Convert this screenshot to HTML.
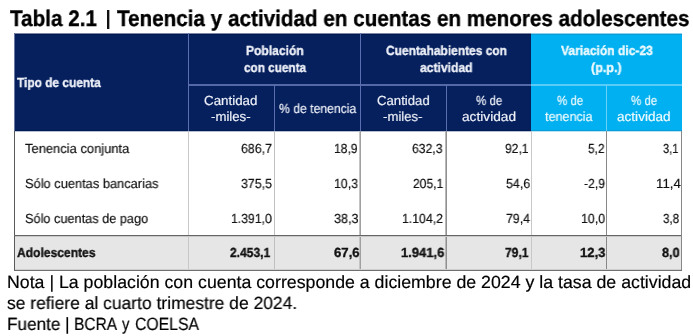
<!DOCTYPE html>
<html><head><meta charset="utf-8"><style>
html,body{margin:0;padding:0;background:#fff;}
body{width:693px;height:336px;position:relative;overflow:hidden;font-family:'Liberation Sans', sans-serif;}
</style></head><body>
<div style="position:absolute;left:107px;top:10px;width:2px;height:19px;background:#111"></div>
<div style="position:absolute;left:109px;top:10px;width:1px;height:19px;background:#aaa"></div>
<div style="position:absolute;left:14px;top:33px;width:1px;height:98px;background:#6a78a0"></div>
<div style="position:absolute;left:15px;top:33px;width:516px;height:98px;background:#06205e"></div>
<div style="position:absolute;left:531px;top:33px;width:151px;height:98px;background:#00b0f0"></div>
<div style="position:absolute;left:15px;top:33px;width:516px;height:1px;background:#7c86a8"></div>
<div style="position:absolute;left:15px;top:34px;width:516px;height:1px;background:#00174c"></div>
<div style="position:absolute;left:531px;top:33px;width:151px;height:1px;background:#8ad2ee"></div>
<div style="position:absolute;left:531px;top:34px;width:151px;height:1px;background:#0a9cd6"></div>
<div style="position:absolute;left:15px;top:130px;width:516px;height:1px;background:#001a52"></div>
<div style="position:absolute;left:15px;top:131px;width:516px;height:1px;background:#b8bed2"></div>
<div style="position:absolute;left:531px;top:130px;width:151px;height:1px;background:#0a9ed8"></div>
<div style="position:absolute;left:531px;top:131px;width:151px;height:1px;background:#b8e4f6"></div>
<div style="position:absolute;left:188px;top:84px;width:343px;height:2px;background:#5468a6"></div>
<div style="position:absolute;left:531px;top:84px;width:151px;height:2px;background:#58ccf6"></div>
<div style="position:absolute;left:188px;top:33px;width:1px;height:98px;background:#5a6eb0"></div>
<div style="position:absolute;left:360px;top:33px;width:1px;height:98px;background:#5a6eb0"></div>
<div style="position:absolute;left:274px;top:85px;width:1px;height:46px;background:#5a6eb0"></div>
<div style="position:absolute;left:446px;top:85px;width:1px;height:46px;background:#5a6eb0"></div>
<div style="position:absolute;left:606px;top:85px;width:1px;height:46px;background:#66d2f7"></div>
<div style="position:absolute;left:15px;top:235px;width:666px;height:35px;background:#e6e6e6"></div>
<div style="position:absolute;left:14px;top:131px;width:1px;height:140px;background:#5a5a5a"></div>
<div style="position:absolute;left:681px;top:131px;width:1px;height:140px;background:#888888"></div>
<div style="position:absolute;left:188px;top:131px;width:1px;height:139px;background:#c8c8c8"></div>
<div style="position:absolute;left:274px;top:131px;width:1px;height:139px;background:#c0c0c0"></div>
<div style="position:absolute;left:359px;top:131px;width:1px;height:139px;background:#c4c4c4"></div>
<div style="position:absolute;left:360px;top:131px;width:1px;height:139px;background:#a0a0a0"></div>
<div style="position:absolute;left:445px;top:131px;width:1px;height:139px;background:#b8b8b8"></div>
<div style="position:absolute;left:446px;top:131px;width:1px;height:139px;background:#909090"></div>
<div style="position:absolute;left:531px;top:131px;width:1px;height:139px;background:#c8c8c8"></div>
<div style="position:absolute;left:606px;top:131px;width:1px;height:139px;background:#888888"></div>
<div style="position:absolute;left:14px;top:235px;width:667px;height:1px;background:#656565"></div>
<div style="position:absolute;left:15px;top:236px;width:666px;height:1px;background:#c8c8c8"></div>
<div style="position:absolute;left:15px;top:269px;width:666px;height:1px;background:#cfcfcf"></div>
<div style="position:absolute;left:14px;top:270px;width:668px;height:1px;background:#707070"></div>
<div style="position:absolute;left:9.80px;top:5.00px;font-size:22.5px;line-height:27.000px;font-weight:700;color:#000;white-space:nowrap;will-change:transform;text-rendering:geometricPrecision;-webkit-text-stroke:0.35px #000;transform:scaleX(0.9202);transform-origin:0 0;">Tabla 2.1</div>
<div style="position:absolute;left:116.50px;top:5.00px;font-size:22.5px;line-height:27.000px;font-weight:700;color:#000;white-space:nowrap;will-change:transform;text-rendering:geometricPrecision;-webkit-text-stroke:0.35px #000;transform:scaleX(0.9181);transform-origin:0 0;">Tenencia y actividad en cuentas en menores adolescentes</div>
<div style="position:absolute;left:17.00px;top:75.00px;font-size:13.2px;line-height:15.840px;font-weight:700;color:#eef1f8;white-space:nowrap;will-change:transform;text-rendering:geometricPrecision;-webkit-text-stroke:0.35px #eef1f8;transform:scaleX(0.9022);transform-origin:0 0;">Tipo de cuenta</div>
<div style="position:absolute;left:245.89px;top:43.00px;font-size:13.2px;line-height:15.840px;font-weight:700;color:#eef1f8;white-space:nowrap;will-change:transform;text-rendering:geometricPrecision;-webkit-text-stroke:0.35px #eef1f8;transform:scaleX(0.9148);transform-origin:0 0;">Población</div>
<div style="position:absolute;left:243.50px;top:59.50px;font-size:13.2px;line-height:15.840px;font-weight:700;color:#eef1f8;white-space:nowrap;will-change:transform;text-rendering:geometricPrecision;-webkit-text-stroke:0.35px #eef1f8;transform:scaleX(0.8914);transform-origin:0 0;">con cuenta</div>
<div style="position:absolute;left:385.70px;top:43.00px;font-size:13.2px;line-height:15.840px;font-weight:700;color:#eef1f8;white-space:nowrap;will-change:transform;text-rendering:geometricPrecision;-webkit-text-stroke:0.35px #eef1f8;transform:scaleX(0.9068);transform-origin:0 0;">Cuentahabientes con</div>
<div style="position:absolute;left:420.40px;top:59.50px;font-size:13.2px;line-height:15.840px;font-weight:700;color:#eef1f8;white-space:nowrap;will-change:transform;text-rendering:geometricPrecision;-webkit-text-stroke:0.35px #eef1f8;transform:scaleX(0.9196);transform-origin:0 0;">actividad</div>
<div style="position:absolute;left:561.00px;top:43.00px;font-size:13.2px;line-height:15.840px;font-weight:700;color:#eefaff;white-space:nowrap;will-change:transform;text-rendering:geometricPrecision;-webkit-text-stroke:0.35px #eefaff;transform:scaleX(0.9150);transform-origin:0 0;">Variación dic-23</div>
<div style="position:absolute;left:590.85px;top:59.50px;font-size:13.2px;line-height:15.840px;font-weight:700;color:#eefaff;white-space:nowrap;will-change:transform;text-rendering:geometricPrecision;-webkit-text-stroke:0.35px #eefaff;transform:scaleX(0.9516);transform-origin:0 0;">(p.p.)</div>
<div style="position:absolute;left:204.39px;top:92.70px;font-size:13.2px;line-height:15.840px;font-weight:400;color:#eef1f8;white-space:nowrap;will-change:transform;text-rendering:geometricPrecision;-webkit-text-stroke:0.18px #eef1f8;transform:scaleX(1.0118);transform-origin:0 0;">Cantidad</div>
<div style="position:absolute;left:211.00px;top:108.50px;font-size:13.2px;line-height:15.840px;font-weight:400;color:#eef1f8;white-space:nowrap;will-change:transform;text-rendering:geometricPrecision;-webkit-text-stroke:0.18px #eef1f8;transform:scaleX(1.0000);transform-origin:0 0;">-miles-</div>
<div style="position:absolute;left:278.60px;top:101.00px;font-size:13.2px;line-height:15.840px;font-weight:400;color:#eef1f8;white-space:nowrap;will-change:transform;text-rendering:geometricPrecision;-webkit-text-stroke:0.18px #eef1f8;transform:scaleX(0.9238);transform-origin:0 0;">% de tenencia</div>
<div style="position:absolute;left:376.80px;top:92.70px;font-size:13.2px;line-height:15.840px;font-weight:400;color:#eef1f8;white-space:nowrap;will-change:transform;text-rendering:geometricPrecision;-webkit-text-stroke:0.18px #eef1f8;transform:scaleX(0.9980);transform-origin:0 0;">Cantidad</div>
<div style="position:absolute;left:383.31px;top:108.50px;font-size:13.2px;line-height:15.840px;font-weight:400;color:#eef1f8;white-space:nowrap;will-change:transform;text-rendering:geometricPrecision;-webkit-text-stroke:0.18px #eef1f8;transform:scaleX(0.9947);transform-origin:0 0;">-miles-</div>
<div style="position:absolute;left:475.90px;top:92.70px;font-size:13.2px;line-height:15.840px;font-weight:400;color:#eef1f8;white-space:nowrap;will-change:transform;text-rendering:geometricPrecision;-webkit-text-stroke:0.18px #eef1f8;transform:scaleX(0.8733);transform-origin:0 0;">% de</div>
<div style="position:absolute;left:462.26px;top:108.50px;font-size:13.2px;line-height:15.840px;font-weight:400;color:#eef1f8;white-space:nowrap;will-change:transform;text-rendering:geometricPrecision;-webkit-text-stroke:0.18px #eef1f8;transform:scaleX(1.0380);transform-origin:0 0;">actividad</div>
<div style="position:absolute;left:556.80px;top:92.70px;font-size:13.2px;line-height:15.840px;font-weight:400;color:#eefaff;white-space:nowrap;will-change:transform;text-rendering:geometricPrecision;-webkit-text-stroke:0.18px #eefaff;transform:scaleX(0.8700);transform-origin:0 0;">% de</div>
<div style="position:absolute;left:545.30px;top:108.50px;font-size:13.2px;line-height:15.840px;font-weight:400;color:#eefaff;white-space:nowrap;will-change:transform;text-rendering:geometricPrecision;-webkit-text-stroke:0.18px #eefaff;transform:scaleX(0.9540);transform-origin:0 0;">tenencia</div>
<div style="position:absolute;left:631.00px;top:92.70px;font-size:13.2px;line-height:15.840px;font-weight:400;color:#eefaff;white-space:nowrap;will-change:transform;text-rendering:geometricPrecision;-webkit-text-stroke:0.18px #eefaff;transform:scaleX(0.8700);transform-origin:0 0;">% de</div>
<div style="position:absolute;left:617.27px;top:108.50px;font-size:13.2px;line-height:15.840px;font-weight:400;color:#eefaff;white-space:nowrap;will-change:transform;text-rendering:geometricPrecision;-webkit-text-stroke:0.18px #eefaff;transform:scaleX(1.0300);transform-origin:0 0;">actividad</div>
<div style="position:absolute;left:25.40px;top:141.00px;font-size:13.2px;line-height:15.840px;font-weight:400;color:#111111;white-space:nowrap;will-change:transform;text-rendering:geometricPrecision;-webkit-text-stroke:0.18px #111111;transform:scaleX(0.9811);transform-origin:0 0;">Tenencia conjunta</div>
<div style="position:absolute;left:240.96px;top:141.00px;font-size:13.2px;line-height:15.840px;font-weight:400;color:#111111;white-space:nowrap;will-change:transform;text-rendering:geometricPrecision;-webkit-text-stroke:0.18px #111111;transform:scaleX(0.9375);transform-origin:0 0;">686,7</div>
<div style="position:absolute;left:334.48px;top:141.00px;font-size:13.2px;line-height:15.840px;font-weight:400;color:#111111;white-space:nowrap;will-change:transform;text-rendering:geometricPrecision;-webkit-text-stroke:0.18px #111111;transform:scaleX(0.9208);transform-origin:0 0;">18,9</div>
<div style="position:absolute;left:412.48px;top:141.00px;font-size:13.2px;line-height:15.840px;font-weight:400;color:#111111;white-space:nowrap;will-change:transform;text-rendering:geometricPrecision;-webkit-text-stroke:0.18px #111111;transform:scaleX(0.9219);transform-origin:0 0;">632,3</div>
<div style="position:absolute;left:505.08px;top:141.00px;font-size:13.2px;line-height:15.840px;font-weight:400;color:#111111;white-space:nowrap;will-change:transform;text-rendering:geometricPrecision;-webkit-text-stroke:0.18px #111111;transform:scaleX(0.9208);transform-origin:0 0;">92,1</div>
<div style="position:absolute;left:588.09px;top:141.00px;font-size:13.2px;line-height:15.840px;font-weight:400;color:#111111;white-space:nowrap;will-change:transform;text-rendering:geometricPrecision;-webkit-text-stroke:0.18px #111111;transform:scaleX(0.9059);transform-origin:0 0;">5,2</div>
<div style="position:absolute;left:662.56px;top:141.00px;font-size:13.2px;line-height:15.840px;font-weight:400;color:#111111;white-space:nowrap;will-change:transform;text-rendering:geometricPrecision;-webkit-text-stroke:0.18px #111111;transform:scaleX(0.8412);transform-origin:0 0;">3,1</div>
<div style="position:absolute;left:24.83px;top:176.40px;font-size:13.2px;line-height:15.840px;font-weight:400;color:#111111;white-space:nowrap;will-change:transform;text-rendering:geometricPrecision;-webkit-text-stroke:0.18px #111111;transform:scaleX(0.9735);transform-origin:0 0;">Sólo cuentas bancarias</div>
<div style="position:absolute;left:240.96px;top:176.40px;font-size:13.2px;line-height:15.840px;font-weight:400;color:#111111;white-space:nowrap;will-change:transform;text-rendering:geometricPrecision;-webkit-text-stroke:0.18px #111111;transform:scaleX(0.9375);transform-origin:0 0;">375,5</div>
<div style="position:absolute;left:334.36px;top:176.40px;font-size:13.2px;line-height:15.840px;font-weight:400;color:#111111;white-space:nowrap;will-change:transform;text-rendering:geometricPrecision;-webkit-text-stroke:0.18px #111111;transform:scaleX(0.9375);transform-origin:0 0;">10,3</div>
<div style="position:absolute;left:412.58px;top:176.40px;font-size:13.2px;line-height:15.840px;font-weight:400;color:#111111;white-space:nowrap;will-change:transform;text-rendering:geometricPrecision;-webkit-text-stroke:0.18px #111111;transform:scaleX(0.9156);transform-origin:0 0;">205,1</div>
<div style="position:absolute;left:505.65px;top:176.40px;font-size:13.2px;line-height:15.840px;font-weight:400;color:#111111;white-space:nowrap;will-change:transform;text-rendering:geometricPrecision;-webkit-text-stroke:0.18px #111111;transform:scaleX(0.9458);transform-origin:0 0;">54,6</div>
<div style="position:absolute;left:583.88px;top:176.40px;font-size:13.2px;line-height:15.840px;font-weight:400;color:#111111;white-space:nowrap;will-change:transform;text-rendering:geometricPrecision;-webkit-text-stroke:0.18px #111111;transform:scaleX(0.9190);transform-origin:0 0;">-2,9</div>
<div style="position:absolute;left:655.60px;top:176.40px;font-size:13.2px;line-height:15.840px;font-weight:400;color:#111111;white-space:nowrap;will-change:transform;text-rendering:geometricPrecision;-webkit-text-stroke:0.18px #111111;transform:scaleX(1.0043);transform-origin:0 0;">11,4</div>
<div style="position:absolute;left:24.83px;top:211.00px;font-size:13.2px;line-height:15.840px;font-weight:400;color:#111111;white-space:nowrap;will-change:transform;text-rendering:geometricPrecision;-webkit-text-stroke:0.18px #111111;transform:scaleX(0.9651);transform-origin:0 0;">Sólo cuentas de pago</div>
<div style="position:absolute;left:231.17px;top:211.00px;font-size:13.2px;line-height:15.840px;font-weight:400;color:#111111;white-space:nowrap;will-change:transform;text-rendering:geometricPrecision;-webkit-text-stroke:0.18px #111111;transform:scaleX(0.9256);transform-origin:0 0;">1.391,0</div>
<div style="position:absolute;left:333.84px;top:211.00px;font-size:13.2px;line-height:15.840px;font-weight:400;color:#111111;white-space:nowrap;will-change:transform;text-rendering:geometricPrecision;-webkit-text-stroke:0.18px #111111;transform:scaleX(0.9583);transform-origin:0 0;">38,3</div>
<div style="position:absolute;left:402.47px;top:211.00px;font-size:13.2px;line-height:15.840px;font-weight:400;color:#111111;white-space:nowrap;will-change:transform;text-rendering:geometricPrecision;-webkit-text-stroke:0.18px #111111;transform:scaleX(0.9302);transform-origin:0 0;">1.104,2</div>
<div style="position:absolute;left:506.26px;top:211.00px;font-size:13.2px;line-height:15.840px;font-weight:400;color:#111111;white-space:nowrap;will-change:transform;text-rendering:geometricPrecision;-webkit-text-stroke:0.18px #111111;transform:scaleX(0.9375);transform-origin:0 0;">79,4</div>
<div style="position:absolute;left:581.16px;top:211.00px;font-size:13.2px;line-height:15.840px;font-weight:400;color:#111111;white-space:nowrap;will-change:transform;text-rendering:geometricPrecision;-webkit-text-stroke:0.18px #111111;transform:scaleX(0.9417);transform-origin:0 0;">10,0</div>
<div style="position:absolute;left:663.22px;top:211.00px;font-size:13.2px;line-height:15.840px;font-weight:400;color:#111111;white-space:nowrap;will-change:transform;text-rendering:geometricPrecision;-webkit-text-stroke:0.18px #111111;transform:scaleX(0.8824);transform-origin:0 0;">3,8</div>
<div style="position:absolute;left:16.60px;top:245.40px;font-size:13.2px;line-height:15.840px;font-weight:700;color:#111;white-space:nowrap;will-change:transform;text-rendering:geometricPrecision;-webkit-text-stroke:0.35px #111;transform:scaleX(0.9153);transform-origin:0 0;">Adolescentes</div>
<div style="position:absolute;left:230.00px;top:245.40px;font-size:13.2px;line-height:15.840px;font-weight:700;color:#111;white-space:nowrap;will-change:transform;text-rendering:geometricPrecision;-webkit-text-stroke:0.35px #111;transform:scaleX(0.9136);transform-origin:0 0;">2.453,1</div>
<div style="position:absolute;left:333.50px;top:245.40px;font-size:13.2px;line-height:15.840px;font-weight:700;color:#111;white-space:nowrap;will-change:transform;text-rendering:geometricPrecision;-webkit-text-stroke:0.35px #111;transform:scaleX(0.9960);transform-origin:0 0;">67,6</div>
<div style="position:absolute;left:400.72px;top:245.40px;font-size:13.2px;line-height:15.840px;font-weight:700;color:#111;white-space:nowrap;will-change:transform;text-rendering:geometricPrecision;-webkit-text-stroke:0.35px #111;transform:scaleX(0.9837);transform-origin:0 0;">1.941,6</div>
<div style="position:absolute;left:504.80px;top:245.40px;font-size:13.2px;line-height:15.840px;font-weight:700;color:#111;white-space:nowrap;will-change:transform;text-rendering:geometricPrecision;-webkit-text-stroke:0.35px #111;transform:scaleX(0.9160);transform-origin:0 0;">79,1</div>
<div style="position:absolute;left:579.71px;top:245.40px;font-size:13.2px;line-height:15.840px;font-weight:700;color:#111;white-space:nowrap;will-change:transform;text-rendering:geometricPrecision;-webkit-text-stroke:0.35px #111;transform:scaleX(0.9917);transform-origin:0 0;">12,3</div>
<div style="position:absolute;left:662.00px;top:245.40px;font-size:13.2px;line-height:15.840px;font-weight:700;color:#111;white-space:nowrap;will-change:transform;text-rendering:geometricPrecision;-webkit-text-stroke:0.35px #111;transform:scaleX(0.9611);transform-origin:0 0;">8,0</div>
<div style="position:absolute;left:7.30px;top:272.00px;font-size:17.7px;line-height:21.240px;font-weight:400;color:#000;white-space:nowrap;will-change:transform;text-rendering:geometricPrecision;-webkit-text-stroke:0.18px #000;transform:scaleX(1.0031);transform-origin:0 0;">Nota | La población con cuenta corresponde a diciembre de 2024 y la tasa de actividad</div>
<div style="position:absolute;left:7.31px;top:292.70px;font-size:17.7px;line-height:21.240px;font-weight:400;color:#000;white-space:nowrap;will-change:transform;text-rendering:geometricPrecision;-webkit-text-stroke:0.18px #000;transform:scaleX(0.9873);transform-origin:0 0;">se refiere al cuarto trimestre de 2024.</div>
<div style="position:absolute;left:7.33px;top:314.00px;font-size:17.7px;line-height:21.240px;font-weight:400;color:#000;white-space:nowrap;will-change:transform;text-rendering:geometricPrecision;-webkit-text-stroke:0.18px #000;transform:scaleX(0.9698);transform-origin:0 0;">Fuente</div>
<div style="position:absolute;left:64.60px;top:314.00px;font-size:17.7px;line-height:21.240px;font-weight:400;color:#000;white-space:nowrap;will-change:transform;text-rendering:geometricPrecision;-webkit-text-stroke:0.18px #000;transform:scaleX(1.0000);transform-origin:0 0;">|</div>
<div style="position:absolute;left:73.82px;top:314.00px;font-size:17.7px;line-height:21.240px;font-weight:400;color:#000;white-space:nowrap;will-change:transform;text-rendering:geometricPrecision;-webkit-text-stroke:0.18px #000;transform:scaleX(0.8792);transform-origin:0 0;">BCRA</div>
<div style="position:absolute;left:122.00px;top:314.00px;font-size:17.7px;line-height:21.240px;font-weight:400;color:#000;white-space:nowrap;will-change:transform;text-rendering:geometricPrecision;-webkit-text-stroke:0.18px #000;transform:scaleX(0.8333);transform-origin:0 0;">y</div>
<div style="position:absolute;left:134.81px;top:314.00px;font-size:17.7px;line-height:21.240px;font-weight:400;color:#000;white-space:nowrap;will-change:transform;text-rendering:geometricPrecision;-webkit-text-stroke:0.18px #000;transform:scaleX(0.8915);transform-origin:0 0;">COELSA</div>
</body></html>
